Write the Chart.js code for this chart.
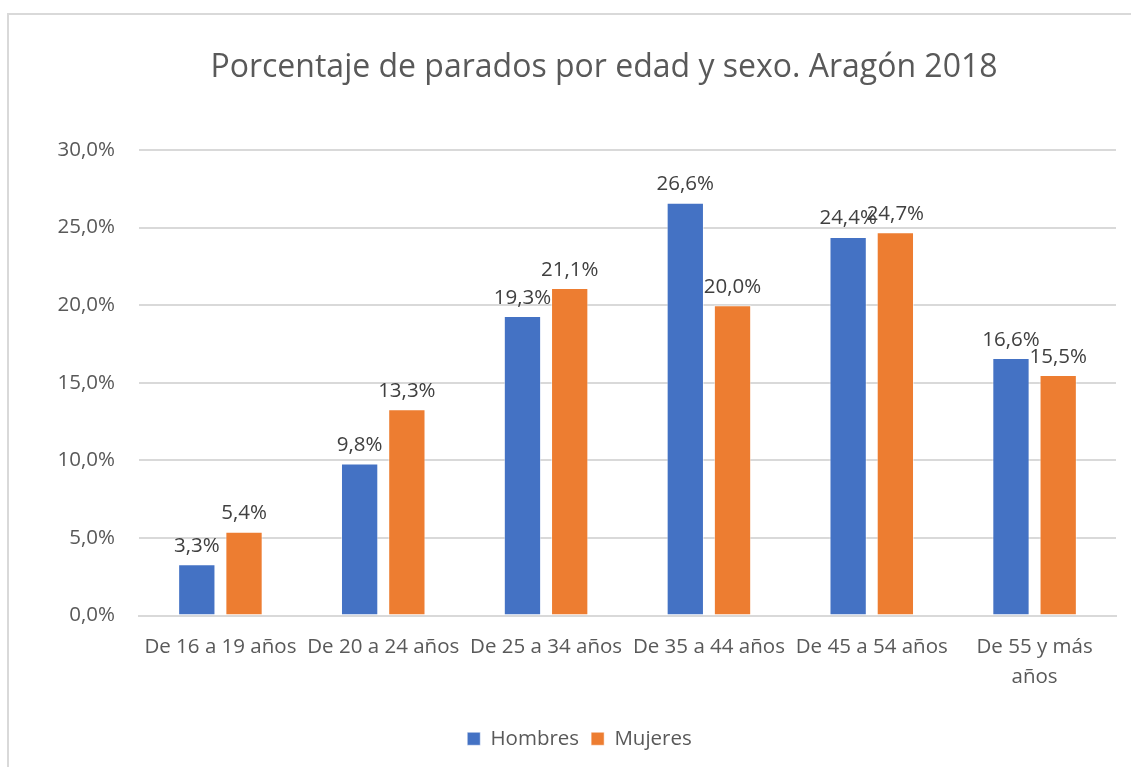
<!DOCTYPE html>
<html>
<head>
<meta charset="utf-8">
<script src="https://cdn.jsdelivr.net/npm/chart.js@4"></script>
<style>
    html, body { margin: 0; padding: 0; background: #fff; }
    #wrap { width: 1131px; height: 767px; }
</style>
</head>
<body>
<div id="wrap"><canvas id="parados-chart" width="1131" height="767"></canvas></div>
<script>
// categories (age groups) and percentages by sex
const categories = ['De 16 a 19 años', 'De 20 a 24 años', 'De 25 a 34 años', 'De 35 a 44 años', 'De 45 a 54 años', ['De 55 y más', 'años']];
const hombres = [3.3, 9.8, 19.3, 26.6, 24.4, 16.6];
const mujeres = [5.4, 13.3, 21.1, 20.0, 24.7, 15.5];
const yTicks = [0, 5, 10, 15, 20, 25, 30];

const FONT = "'Open Sans', 'Noto Sans', sans-serif";
const TEXT_GRAY = '#595959';

// format a number like Excel in spanish: 26,6%
const pct = (v) => v.toFixed(1).replace('.', ',') + '%';

// frame around the chart, title and value labels
const excelLook = {
    id: 'excelLook',
    beforeDraw: (chart) => {
        const ctx = chart.ctx;
        ctx.save();
        ctx.fillStyle = '#fff';
        ctx.fillRect(0, 0, chart.width, chart.height);
        ctx.strokeStyle = '#D9D9D9';
        ctx.lineWidth = 2;
        ctx.strokeRect(8, 14, 1400, 900);
        ctx.restore();
    },
    afterDatasetsDraw: (chart) => {
        const ctx = chart.ctx;
        ctx.save();
        // title
        ctx.font = `32px ${FONT}`;
        ctx.fillStyle = TEXT_GRAY;
        ctx.textAlign = 'center';
        ctx.textBaseline = 'middle';
        ctx.fillText('Porcentaje de parados por edad y sexo. Aragón 2018', 604, 68);

        // value labels above bars
        ctx.font = `20.5px ${FONT}`;
        ctx.fillStyle = '#404040';
        ctx.textBaseline = 'bottom';
        chart.data.datasets.forEach((ds, i) => {
            chart.getDatasetMeta(i).data.forEach((bar, j) => {
                ctx.fillText(pct(ds.data[j]), bar.x, bar.y - 8);
            });
        });
        ctx.restore();
    }
};

const chart = new Chart(document.getElementById('parados-chart'), {
    type: 'bar',
    data: {
        labels: categories,
        datasets: [{
            label: 'Hombres',
            data: hombres,
            backgroundColor: '#4472C4',
            borderColor: 'rgba(255,255,255,0.5)',
            borderWidth: 1,
            barPercentage: 0.79,
            categoryPercentage: 0.58
        }, {
            label: 'Mujeres',
            data: mujeres,
            backgroundColor: '#ED7D31',
            borderColor: 'rgba(255,255,255,0.5)',
            borderWidth: 1,
            barPercentage: 0.79,
            categoryPercentage: 0.58
        }]
    },
    plugins: [excelLook],
    options: {
        responsive: false,
        animation: false,
        layout: {
            padding: { left: 43, right: 15, top: 150, bottom: 8 }
        },
        plugins: {
            title: { display: false },
            tooltip: { enabled: false },
            legend: {
                position: 'bottom',
                labels: {
                    boxWidth: 13,
                    boxHeight: 13,
                    padding: 12,
                    color: TEXT_GRAY,
                    font: { family: FONT, size: 20.5 }
                }
            }
        },
        scales: {
            x: {
                grid: { display: false },
                border: { color: '#D9D9D9', width: 2 },
                ticks: {
                    color: TEXT_GRAY,
                    padding: 9,
                    maxRotation: 0,
                    autoSkip: false,
                    font: { family: FONT, size: 20.5, lineHeight: 1.45 }
                },
                afterFit: (scale) => { scale.height = 101; }
            },
            y: {
                min: 0,
                max: 30,
                afterBuildTicks: (scale) => { scale.ticks = yTicks.map(v => ({ value: v })); },
                grid: { color: '#D9D9D9', lineWidth: 2, drawTicks: false },
                border: { display: false },
                ticks: {
                    color: TEXT_GRAY,
                    padding: 24,
                    font: { family: FONT, size: 20.5 },
                    callback: (v) => pct(v)
                },
                afterFit: (scale) => { scale.width = 96; }
            }
        }
    }
});
</script>
</body>
</html>
